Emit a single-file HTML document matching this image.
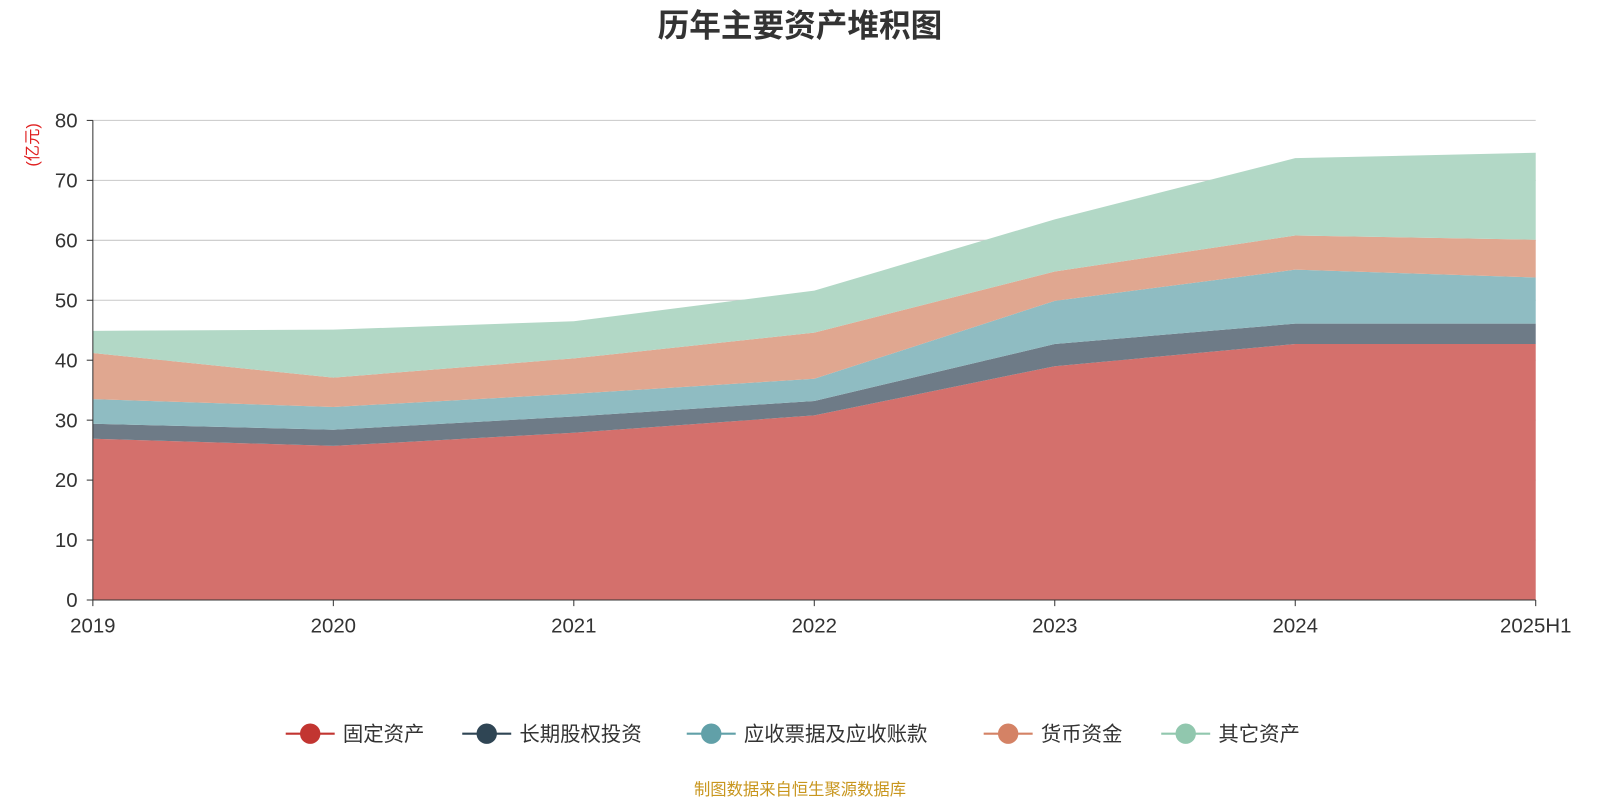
<!DOCTYPE html>
<html><head><meta charset="utf-8"><style>
body{margin:0;background:#fff;width:1600px;height:800px;overflow:hidden;font-family:"Liberation Sans","Noto Sans CJK SC",sans-serif}
</style></head><body>
<svg id="c" width="1600" height="800" viewBox="0 0 1568 784" style="font-family:'Liberation Sans','Noto Sans CJK SC',sans-serif">
<text x="784" y="36" text-anchor="middle" font-size="31" font-weight="bold" fill="#333">历年主要资产堆积图</text>
<text transform="translate(37,142) rotate(-90)" text-anchor="middle" font-size="16" fill="#e02020">(亿元)</text>
<g id="grid"></g><g id="areas"></g><g id="axes"></g><g id="legend"></g>
<text x="784" y="779" text-anchor="middle" font-size="16" fill="#c8961e">制图数据来自恒生聚源数据库</text>
</svg>
<script>
const categories=["2019","2020","2021","2022","2023","2024","2025H1"];
const seriesNames=["固定资产","长期股权投资","应收票据及应收账款","货币资金","其它资产"];
const fixedAssets=[26.9,25.7,27.9,30.8,39.0,42.7,42.7];
const longTermEquity=[2.5,2.7,2.7,2.4,3.7,3.4,3.4];
const receivables=[4.1,3.8,3.8,3.7,7.2,9.0,7.7];
const cash=[7.7,4.9,5.9,7.7,4.9,5.7,6.3];
const otherAssets=[3.7,8.0,6.2,7.0,8.7,12.9,14.5];
const yTicks=[0,10,20,30,40,50,60,70,80];
const fills=["#d4706c","#6e7b87","#8fbcc2","#e0a790","#b2d8c6"];
const dots=["#c23531","#2f4554","#61a0a8","#d48265","#91c7ae"];
const NS="http://www.w3.org/2000/svg";
const x0=91,x1=1505,y0=588,y1=118,yMax=80;
const X=i=>x0+(x1-x0)*i/(categories.length-1);
const Y=v=>y0-(y0-y1)*v/yMax;
function mk(t,a,p){const e=document.createElementNS(NS,t);for(const k in a)e.setAttribute(k,a[k]);p.appendChild(e);return e;}
const grid=document.getElementById('grid'),areas=document.getElementById('areas'),axes=document.getElementById('axes'),legend=document.getElementById('legend');
yTicks.forEach(v=>{
 if(v>0){const g=mk('line',{x1:x0,x2:x1,y1:Y(v),y2:Y(v),stroke:'#c8c8c8','stroke-width':1},grid);
 
 }
 const t=mk('text',{x:x0-15,y:Y(v)+7,'text-anchor':'end','font-size':20,fill:'#333'},axes);t.textContent=v;
 
 
 mk('line',{x1:x0-6,x2:x0,y1:Y(v),y2:Y(v),stroke:'#333'},axes);
});
const all=[fixedAssets,longTermEquity,receivables,cash,otherAssets];
let base=categories.map(()=>0);
all.forEach((s,k)=>{
 const top=base.map((b,i)=>b+s[i]);
 let d='M'+top.map((v,i)=>X(i)+','+Y(v)).join('L');
 for(let i=categories.length-1;i>=0;i--)d+='L'+X(i)+','+Y(base[i]);
 const p=mk('path',{d:d+'Z',fill:fills[k]},areas);
 
 
 base=top;
});
mk('line',{x1:x0,x2:x0,y1:y1,y2:y0,stroke:'#333'},axes);
mk('line',{x1:x0,x2:x1,y1:y0,y2:y0,stroke:'#333'},axes);
categories.forEach((c,i)=>{
 mk('line',{x1:X(i),x2:X(i),y1:y0,y2:y0+6,stroke:'#333'},axes);
 const t=mk('text',{x:X(i),y:620,'text-anchor':'middle','font-size':20,fill:'#333'},axes);t.textContent=c;
 
 
});
const lx=[280,453,673,964,1138];
seriesNames.forEach((n,k)=>{
 const g=mk('g',{},legend);
 
 
 mk('line',{x1:lx[k],x2:lx[k]+48,y1:719,y2:719,stroke:dots[k],'stroke-width':2},g);
 mk('circle',{cx:lx[k]+24,cy:719,r:10,fill:dots[k]},g);
 const t=mk('text',{x:lx[k]+56,y:726,'font-size':20,fill:'#333'},g);t.textContent=n;
});
</script>
</body></html>
